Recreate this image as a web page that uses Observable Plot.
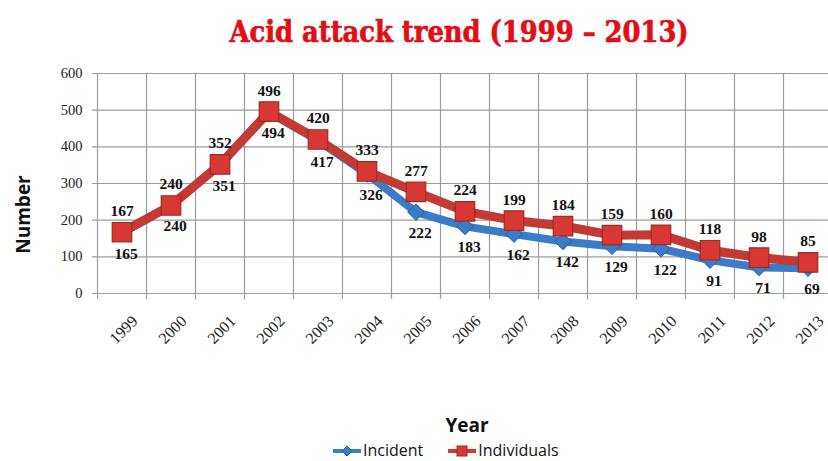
<!DOCTYPE html>
<html>
<head>
<meta charset="utf-8">
<script src="https://cdn.jsdelivr.net/npm/d3@7"></script>
<script src="https://cdn.jsdelivr.net/npm/@observablehq/plot@0.6"></script>
<style>
  html, body { margin: 0; padding: 0; background: #fff; }
  #wrap { position: relative; width: 828px; height: 461px; overflow: hidden; background: #fff; }
  #title { position: absolute; left: 459px; top: 15px; transform: translateX(-50%) scaleX(0.89); white-space: nowrap; line-height: 34px;
    font-family: "DejaVu Serif", serif; font-weight: bold; font-size: 29px; color: #e30d16;
    -webkit-text-stroke: 0.7px #e30d16; }
  #chart { position: absolute; left: 0; top: 58px; }
  #xlabel { position: absolute; left: 467px; top: 412px; transform: translateX(-50%); line-height: 26px;
    font-family: "Open Sans", sans-serif; font-weight: bold; font-size: 19px; color: #111; }
  #legend { position: absolute; left: 332px; top: 442px; display: flex; align-items: center; line-height: 17px;
    font-family: "Open Sans", sans-serif; font-size: 16px; color: #111; }
  #legend .item { display: flex; align-items: center; margin-right: 24px; }
  #legend svg { margin-right: 1px; }
</style>
</head>
<body>
<div id="wrap">
  <div id="title">Acid attack trend (1999 – 2013)</div>
  <div id="chart"></div>
  <div id="xlabel">Year</div>
  <div id="legend"></div>
</div>
<script>
const years = [1999, 2000, 2001, 2002, 2003, 2004, 2005, 2006, 2007, 2008, 2009, 2010, 2011, 2012, 2013];
const incident = [165, 240, 351, 494, 417, 326, 222, 183, 162, 142, 129, 122, 91, 71, 69];
const individuals = [167, 240, 352, 496, 420, 333, 277, 224, 199, 184, 159, 160, 118, 98, 85];
const yTicks = [0, 100, 200, 300, 400, 500, 600];
const seriesNames = ["Incident", "Individuals"];

const blue = "#3b7cc9", blueDark = "#2a5f9e";
const redLine = "#c23a33", redFill = "#d83833", redDark = "#9e2a22";

const rows = years.map((year, i) => ({year, incident: incident[i], individuals: individuals[i]}));
const bounds = years.map(y => y - 0.5).concat([years[years.length - 1] + 0.5]);

const serif = "'Liberation Serif', 'Times New Roman', serif";

const plot = Plot.plot({
  width: 828,
  height: 300,
  marginLeft: 97,
  marginRight: 0,
  marginTop: 15,
  marginBottom: 59,
  x: {type: "linear", domain: [bounds[0], bounds[bounds.length - 1]], range: [97, 832]},
  y: {domain: [0, 600], range: [235, 15]},
  style: {background: "white", overflow: "hidden"},
  marks: [
    Plot.ruleY(yTicks, {stroke: "#9c9c9c", strokeWidth: 1.2, insetLeft: -5}),
    Plot.ruleX(bounds, {stroke: "#9c9c9c", strokeWidth: 1.2}),
    Plot.axisY(yTicks, {tickSize: 0, tickPadding: 15, fontSize: 14.5, fontFamily: serif, fill: "#222", label: null}),
    Plot.axisX({ticks: years, tickFormat: d => String(d), tickRotate: -45, tickSize: 0, tickPadding: 0,
      dy: 19, dx: 13, fontSize: 16, fontFamily: serif, fill: "#222", label: null}),
    Plot.line(rows, {x: "year", y: "incident", stroke: blue, strokeWidth: 8}),
    Plot.dot(rows, {x: "year", y: "incident", symbol: "diamond2", r: 7.5, fill: blue, stroke: blueDark, strokeWidth: 1}),
    Plot.line(rows, {x: "year", y: "individuals", stroke: redLine, strokeWidth: 9}),
    Plot.dot(rows, {x: "year", y: "individuals", symbol: "square", r: 11, fill: redFill, stroke: redDark, strokeWidth: 1.2}),
    Plot.text(rows, {x: "year", y: "individuals", text: d => String(d.individuals), dy: -21,
      fontSize: 15.5, fontWeight: "bold", fontFamily: serif, fill: "#111"}),
    Plot.text(rows, {x: "year", y: "incident", text: d => String(d.incident), dy: 21, dx: 4,
      fontSize: 15.5, fontWeight: "bold", fontFamily: serif, fill: "#111"}),
    Plot.text(["Number"], {frameAnchor: "left", textAnchor: "middle", text: d => d, rotate: -90, dx: -74, dy: 28,
      fontSize: 19, fontWeight: "bold", fontFamily: "'Open Sans', sans-serif", fill: "#111"})
  ]
});
document.getElementById("chart").appendChild(plot);

// legend
const legend = document.getElementById("legend");
const swatch = (color, dark, kind) => {
  const svg = d3.create("svg").attr("width", 30).attr("height", 16);
  svg.append("line").attr("x1", 1).attr("x2", 29).attr("y1", 8).attr("y2", 8)
    .attr("stroke", color).attr("stroke-width", 4);
  if (kind === "diamond") {
    svg.append("path").attr("d", "M15,3L20,8L15,13L10,8Z").attr("fill", color).attr("stroke", dark);
  } else {
    svg.append("rect").attr("x", 10).attr("y", 3).attr("width", 10).attr("height", 10)
      .attr("fill", color).attr("stroke", dark);
  }
  return svg.node();
};
seriesNames.forEach((name, i) => {
  const item = document.createElement("div");
  item.className = "item";
  item.appendChild(i === 0 ? swatch(blue, blueDark, "diamond") : swatch(redFill, redDark, "square"));
  const span = document.createElement("span");
  span.textContent = name;
  item.appendChild(span);
  legend.appendChild(item);
});
</script>
</body>
</html>
